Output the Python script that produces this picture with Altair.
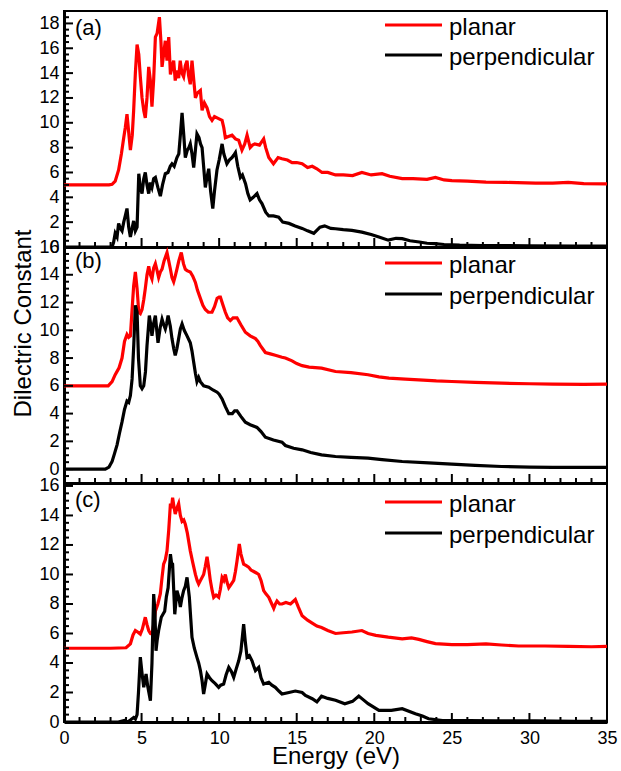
import altair as alt
import pandas as pd

# Energy axis (eV) and panel layout
E_MAX = 35
PANEL_W = 543
FONT = "Liberation Sans"
SERIES = ["planar", "perpendicular"]
COLORS = ["#ff0000", "#000000"]

# ---- (a) -------------------------------------------------------------------
A_PLANAR = [
    (0, 5.0), (2.9, 5.0), (3.1, 5.05), (3.3, 5.3), (3.52, 6.2), (3.7, 7.5), (3.85, 8.8),
    (3.95, 9.6), (4.06, 10.7), (4.15, 9.5), (4.28, 7.8), (4.4, 9.0), (4.49, 11.0),
    (4.6, 14.0), (4.71, 16.3), (4.82, 15.5), (4.92, 13.7), (5.03, 12.0), (5.14, 11.0),
    (5.24, 10.4), (5.35, 12.0), (5.46, 14.5), (5.56, 13.5), (5.67, 11.3), (5.78, 13.5),
    (5.89, 16.9), (6.0, 17.2), (6.15, 18.5), (6.25, 16.5), (6.32, 14.5), (6.42, 15.5),
    (6.53, 16.6), (6.64, 15.0), (6.75, 16.9), (6.86, 13.9), (6.96, 14.5), (7.07, 15.0),
    (7.17, 13.4), (7.28, 14.2), (7.39, 13.6), (7.49, 15.0), (7.6, 14.0), (7.71, 13.7),
    (7.82, 14.6), (7.93, 15.0), (8.03, 13.8), (8.14, 13.1), (8.25, 15.0), (8.36, 13.5),
    (8.47, 12.0), (8.6, 12.4), (8.79, 12.6), (8.9, 11.0), (9.05, 11.6), (9.22, 11.2),
    (9.38, 10.5), (9.54, 10.2), (9.7, 10.5), (9.87, 10.4), (10.03, 10.3), (10.19, 10.2),
    (10.3, 9.6), (10.4, 8.8), (10.6, 8.9), (10.83, 9.0), (11.05, 8.7), (11.26, 8.6),
    (11.47, 7.8), (11.65, 8.3), (11.8, 9.0), (12.0, 8.0), (12.15, 8.2), (12.3, 8.3),
    (12.6, 8.2), (12.87, 8.7), (13.0, 8.0), (13.2, 7.2), (13.5, 6.7), (13.8, 7.2),
    (14.05, 7.1), (14.4, 7.0), (14.7, 6.8), (15.0, 6.8), (15.35, 6.7), (15.7, 6.4),
    (16.0, 6.5), (16.3, 6.3), (16.63, 6.0), (17.0, 6.0), (17.5, 5.8), (18.0, 5.8),
    (18.6, 5.75), (19.2, 6.0), (19.8, 5.8), (20.5, 5.9), (21.0, 5.7), (21.8, 5.5),
    (22.5, 5.5), (23.4, 5.45), (23.94, 5.6), (24.5, 5.4), (25.0, 5.35), (26.0, 5.3),
    (27.2, 5.22), (28.5, 5.2), (30.4, 5.14), (31.5, 5.15), (32.5, 5.2), (33.5, 5.1),
    (35.0, 5.09),
]
A_PERP = [
    (0, 0.0), (3.1, 0.0), (3.2, 0.4), (3.3, 1.1), (3.42, 0.8), (3.52, 1.9), (3.63, 1.5),
    (3.74, 1.3), (3.85, 2.0), (3.95, 2.5), (4.06, 3.1), (4.17, 1.6), (4.28, 0.8),
    (4.39, 1.5), (4.49, 2.1), (4.6, 1.3), (4.71, 1.6), (4.82, 5.9), (4.92, 4.8),
    (5.03, 4.3), (5.14, 5.5), (5.24, 6.0), (5.35, 5.0), (5.46, 4.3), (5.56, 5.2),
    (5.67, 4.8), (5.78, 5.5), (5.89, 5.6), (6.05, 4.8), (6.21, 4.1), (6.35, 5.0),
    (6.53, 5.9), (6.7, 6.0), (6.85, 6.5), (6.96, 6.7), (7.1, 6.5), (7.28, 7.2),
    (7.4, 7.5), (7.5, 9.0), (7.61, 10.8), (7.72, 9.0), (7.82, 7.2), (7.95, 7.8),
    (8.05, 8.0), (8.14, 8.3), (8.25, 7.5), (8.36, 6.4), (8.47, 7.8), (8.57, 9.1),
    (8.7, 8.8), (8.8, 8.3), (8.9, 8.0), (9.0, 6.5), (9.11, 4.8), (9.2, 5.5), (9.33, 6.3),
    (9.45, 4.5), (9.59, 3.1), (9.7, 4.5), (9.86, 6.2), (10.0, 7.0), (10.19, 8.3),
    (10.3, 7.5), (10.5, 6.7), (10.65, 7.0), (10.83, 7.2), (10.95, 7.4), (11.05, 7.6),
    (11.2, 6.5), (11.37, 5.6), (11.5, 5.8), (11.7, 5.1), (11.85, 4.3), (12.0, 3.8),
    (12.2, 4.0), (12.44, 4.3), (12.6, 3.8), (12.76, 3.5), (13.0, 2.8), (13.2, 2.5),
    (13.5, 2.5), (13.84, 2.4), (14.1, 2.0), (14.5, 1.9), (14.9, 1.7), (15.35, 1.5),
    (15.7, 1.3), (16.1, 1.1), (16.5, 1.6), (16.8, 1.7), (17.2, 1.5), (17.5, 1.47),
    (18.0, 1.4), (18.56, 1.34), (19.2, 1.2), (19.8, 1.0), (20.3, 0.8), (20.9, 0.55),
    (21.4, 0.7), (21.8, 0.67), (22.3, 0.5), (22.9, 0.4), (23.4, 0.3), (23.9, 0.27),
    (24.5, 0.2), (25.5, 0.15), (27.0, 0.12), (30.0, 0.1), (33.0, 0.08), (35.0, 0.08),
]

# ---- (b) -------------------------------------------------------------------
B_PLANAR = [
    (0, 6.0), (2.85, 6.0), (3.1, 6.3), (3.3, 6.8), (3.55, 7.3), (3.74, 8.0), (3.9, 9.2),
    (4.06, 9.7), (4.17, 9.5), (4.28, 9.6), (4.39, 11.5), (4.49, 13.2), (4.6, 14.2),
    (4.71, 13.0), (4.82, 11.3), (4.92, 11.2), (5.03, 11.5), (5.14, 12.2), (5.24, 13.0),
    (5.35, 14.0), (5.46, 14.6), (5.57, 14.0), (5.67, 13.7), (5.78, 14.5), (5.89, 14.8),
    (6.0, 14.3), (6.1, 13.8), (6.21, 14.2), (6.32, 14.4), (6.45, 15.0), (6.64, 15.6),
    (6.75, 15.0), (6.86, 14.4), (6.96, 13.8), (7.07, 13.5), (7.17, 13.9), (7.28, 14.4),
    (7.4, 15.0), (7.56, 15.6), (7.7, 14.8), (7.82, 14.4), (7.93, 14.3), (8.14, 14.2),
    (8.3, 13.9), (8.47, 13.45), (8.6, 12.9), (8.79, 12.3), (8.95, 11.8), (9.11, 11.5),
    (9.3, 11.3), (9.54, 11.3), (9.7, 11.7), (9.87, 12.3), (10.0, 12.4), (10.08, 12.4),
    (10.25, 11.8), (10.4, 11.3), (10.55, 10.9), (10.72, 10.7), (10.9, 10.9), (11.15, 10.9),
    (11.4, 10.4), (11.69, 9.86), (12.0, 9.6), (12.34, 9.4), (12.5, 9.2), (12.66, 8.9),
    (12.98, 8.4), (13.3, 8.3), (13.62, 8.2), (14.05, 8.06), (14.27, 8.0), (14.7, 7.8),
    (15.0, 7.6), (15.35, 7.45), (15.8, 7.35), (16.6, 7.27), (17.5, 7.03), (18.5, 6.95),
    (19.6, 6.8), (20.3, 6.65), (20.94, 6.55), (22.0, 6.48), (22.87, 6.43), (24.0, 6.35),
    (25.0, 6.31), (26.5, 6.25), (28.2, 6.19), (30.0, 6.15), (31.5, 6.12), (33.5, 6.1),
    (35.0, 6.12),
]
B_PERP = [
    (0, 0.0), (2.66, 0.0), (2.9, 0.15), (3.1, 0.55), (3.25, 1.1), (3.42, 1.75), (3.58, 2.6),
    (3.74, 3.4), (3.9, 4.3), (4.06, 4.9), (4.17, 4.8), (4.28, 5.3), (4.39, 6.5), (4.5, 9.0),
    (4.6, 11.8), (4.71, 11.3), (4.8, 8.0), (4.92, 6.0), (5.03, 5.8), (5.14, 6.0),
    (5.25, 7.0), (5.35, 8.9), (5.5, 11.06), (5.58, 10.5), (5.67, 9.6), (5.78, 10.5),
    (5.89, 11.06), (5.98, 10.0), (6.06, 9.1), (6.2, 10.2), (6.32, 10.8), (6.43, 10.4),
    (6.53, 10.1), (6.62, 10.5), (6.71, 11.06), (6.85, 10.3), (6.96, 9.4), (7.07, 8.7),
    (7.17, 8.2), (7.28, 8.7), (7.39, 9.4), (7.5, 10.1), (7.61, 10.46), (7.75, 10.0),
    (7.93, 9.6), (8.14, 9.1), (8.25, 8.5), (8.36, 7.7), (8.47, 6.9), (8.57, 6.3),
    (8.68, 6.6), (8.79, 6.3), (9.0, 6.0), (9.33, 5.9), (9.6, 5.7), (9.87, 5.54),
    (10.0, 5.4), (10.19, 5.06), (10.4, 4.5), (10.62, 4.0), (10.85, 4.0), (11.0, 4.2),
    (11.15, 4.2), (11.4, 3.8), (11.69, 3.38), (12.0, 3.2), (12.44, 3.0), (12.7, 2.7),
    (12.98, 2.3), (13.5, 2.1), (14.05, 1.94), (14.27, 1.7), (14.8, 1.5), (15.35, 1.39),
    (15.9, 1.2), (16.6, 1.03), (17.5, 0.91), (18.5, 0.85), (19.6, 0.79), (20.5, 0.68),
    (21.8, 0.55), (23.5, 0.45), (25.0, 0.36), (26.5, 0.27), (28.2, 0.19), (30.0, 0.15),
    (31.5, 0.12), (33.0, 0.12), (35.0, 0.12),
]

# ---- (c) -------------------------------------------------------------------
C_PLANAR = [
    (0, 5.0), (3.0, 5.0), (4.0, 5.03), (4.28, 5.3), (4.45, 5.9), (4.6, 6.2), (4.75, 6.1),
    (4.92, 5.96), (5.05, 6.3), (5.24, 7.1), (5.35, 6.6), (5.46, 6.2), (5.57, 6.0),
    (5.67, 5.96), (5.78, 6.6), (5.89, 7.5), (6.05, 8.0), (6.21, 8.7), (6.32, 9.8),
    (6.42, 10.7), (6.53, 11.0), (6.64, 11.6), (6.75, 13.0), (6.86, 14.8), (6.93, 14.5),
    (7.0, 15.2), (7.1, 14.5), (7.17, 14.1), (7.28, 14.5), (7.39, 14.8), (7.5, 14.0),
    (7.61, 13.6), (7.72, 13.7), (7.82, 13.4), (7.95, 12.8), (8.14, 11.6), (8.3, 10.8),
    (8.47, 10.0), (8.58, 9.6), (8.68, 9.35), (8.8, 9.6), (9.0, 10.0), (9.1, 10.5),
    (9.22, 11.2), (9.32, 10.5), (9.43, 9.6), (9.55, 8.9), (9.65, 8.45), (9.8, 8.6),
    (9.97, 8.45), (10.08, 9.0), (10.19, 9.8), (10.3, 9.6), (10.4, 10.0), (10.5, 9.5),
    (10.62, 9.1), (10.75, 9.3), (10.94, 9.6), (11.05, 10.2), (11.15, 10.9), (11.3, 12.06),
    (11.4, 11.4), (11.58, 10.7), (11.75, 10.6), (11.9, 10.5), (12.05, 10.3), (12.23, 10.2),
    (12.4, 10.1), (12.55, 10.0), (12.7, 9.6), (12.87, 8.9), (13.0, 8.7), (13.2, 8.45),
    (13.35, 8.1), (13.52, 7.7), (13.63, 8.0), (13.73, 8.2), (13.9, 8.0), (14.05, 8.0),
    (14.3, 8.1), (14.6, 8.0), (14.91, 8.3), (15.1, 7.8), (15.35, 7.2), (15.7, 6.9),
    (16.0, 6.7), (16.3, 6.5), (16.6, 6.4), (17.0, 6.2), (17.5, 6.0), (18.0, 6.05),
    (18.56, 6.1), (19.2, 6.2), (19.6, 6.0), (20.1, 5.87), (20.9, 5.75), (21.8, 5.64),
    (22.4, 5.7), (22.87, 5.6), (23.4, 5.45), (23.94, 5.31), (25.0, 5.24), (26.0, 5.25),
    (27.2, 5.3), (28.2, 5.22), (29.3, 5.15), (31.0, 5.15), (32.5, 5.13), (34.0, 5.1),
    (35.0, 5.13),
]
C_PERP = [
    (0, 0.0), (3.5, 0.0), (3.9, 0.1), (4.1, 0.0), (4.3, 0.15), (4.49, 0.3), (4.6, 0.2),
    (4.71, 0.5), (4.8, 2.0), (4.92, 4.4), (5.03, 3.3), (5.14, 2.35), (5.29, 3.25),
    (5.4, 2.4), (5.57, 1.44), (5.67, 4.0), (5.78, 8.67), (5.86, 7.5), (5.93, 4.83),
    (6.0, 5.5), (6.1, 6.2), (6.27, 7.1), (6.38, 7.3), (6.49, 7.5), (6.6, 8.5), (6.71, 9.1),
    (6.86, 11.38), (6.93, 10.8), (7.0, 10.7), (7.07, 9.0), (7.14, 7.3), (7.2, 8.0),
    (7.28, 8.9), (7.39, 8.5), (7.5, 7.8), (7.6, 8.4), (7.71, 8.9), (7.82, 9.2), (7.93, 9.8),
    (8.08, 8.45), (8.17, 7.0), (8.25, 5.74), (8.4, 5.0), (8.57, 4.38), (8.68, 4.0),
    (8.79, 3.5), (8.9, 2.8), (9.0, 1.9), (9.1, 2.5), (9.22, 3.25), (9.38, 3.0), (9.54, 2.8),
    (9.75, 2.6), (9.97, 2.35), (10.1, 2.5), (10.29, 2.57), (10.45, 3.2), (10.62, 3.7),
    (10.8, 3.4), (10.94, 3.03), (11.1, 3.6), (11.26, 4.15), (11.4, 4.8), (11.5, 5.8),
    (11.58, 6.64), (11.68, 5.5), (11.8, 4.38), (11.95, 4.5), (12.12, 4.15), (12.23, 3.8),
    (12.34, 3.48), (12.55, 3.7), (12.7, 3.0), (12.87, 2.57), (13.2, 2.69), (13.4, 2.5),
    (13.62, 2.35), (13.85, 2.1), (14.05, 1.9), (14.5, 2.0), (14.91, 2.1), (15.35, 2.0),
    (15.56, 1.8), (16.0, 1.58), (16.3, 1.36), (16.6, 1.75), (17.0, 1.6), (17.5, 1.47),
    (18.1, 1.24), (18.6, 1.4), (19.0, 1.76), (19.3, 1.5), (19.6, 1.24), (20.3, 0.79),
    (21.1, 0.79), (21.8, 0.9), (22.65, 0.56), (23.1, 0.4), (23.5, 0.22), (24.4, 0.1),
    (26.1, 0.1), (28.0, 0.08), (30.4, 0.08), (33.0, 0.05), (35.0, 0.05),
]

# Tick positions
X_MAJOR = [0, 5, 10, 15, 20, 25, 30, 35]
X_MINOR = [v for v in range(0, 36) if v % 5 != 0]


def half_steps(lo, hi):
    n0, n1 = int(round(lo * 2)), int(round(hi * 2))
    return [k / 2 for k in range(n0, n1 + 1)]


color_enc = alt.Color(
    "pol:N",
    scale=alt.Scale(domain=SERIES, range=COLORS),
    legend=None,
)


def panel(tag, planar, perp, ydom, ylabels, height, tag_y, leg_y, bottom, ytitle=False):
    df = pd.DataFrame(
        [{"E": e, "eps": v, "pol": "planar"} for e, v in planar]
        + [{"E": e, "eps": v, "pol": "perpendicular"} for e, v in perp]
    )
    xs = alt.Scale(domain=[0, E_MAX], nice=False, zero=False)
    ys = alt.Scale(domain=ydom, nice=False, zero=False)

    if bottom:
        x_axis = alt.Axis(
            values=X_MAJOR, ticks=False, grid=False, labelFontSize=18, labelPadding=7,
            labelFlush=False, labelOverlap=False, domainWidth=3, domainColor="black",
            title="Energy (eV)", titleFontSize=24, titleFontWeight="normal",
            titlePadding=-3, labelColor="black", titleColor="black",
        )
    else:
        x_axis = alt.Axis(labels=False, ticks=False, title=None, domainWidth=3,
                          domainColor="black", grid=False)

    y_kwargs = dict(
        values=ylabels, ticks=False, labelFontSize=18, labelPadding=5,
        labelOverlap=False, labelFlush=False, domainWidth=3, domainColor="black",
        labelColor="black", grid=False,
    )
    if ytitle:
        y_axis = alt.Axis(
            title="Dilectric Constant", titleFontSize=24, titleFontWeight="normal",
            titleColor="black", titleX=-41, titleY=76, titleAngle=270,
            titleAlign="center", titleBaseline="middle", **y_kwargs,
        )
    else:
        y_axis = alt.Axis(title=None, **y_kwargs)

    # every layer carries the same axis definition so the merged axis keeps it
    lines = alt.Chart(df).mark_line(strokeWidth=3.2, clip=True).encode(
        x=alt.X("E:Q", scale=xs, axis=x_axis),
        y=alt.Y("eps:Q", scale=ys, axis=y_axis),
        color=color_enc,
    )

    # inward tick marks on the left and bottom frames
    y_major = [v for v in half_steps(ydom[0], ydom[1]) if v % 2 == 0]
    y_minor = [v for v in half_steps(ydom[0], ydom[1]) if v % 2 != 0]
    yt_major = alt.Chart(pd.DataFrame({"v": y_major})).mark_rule(
        color="black", strokeWidth=2).encode(
        y=alt.Y("v:Q", scale=ys, axis=y_axis), x=alt.value(0), x2=alt.value(9))
    yt_minor = alt.Chart(pd.DataFrame({"v": y_minor})).mark_rule(
        color="black", strokeWidth=2).encode(
        y=alt.Y("v:Q", scale=ys, axis=y_axis), x=alt.value(0), x2=alt.value(5))
    xt_major = alt.Chart(pd.DataFrame({"v": X_MAJOR})).mark_rule(
        color="black", strokeWidth=2).encode(
        x=alt.X("v:Q", scale=xs, axis=x_axis), y=alt.value(height), y2=alt.value(height - 9))
    xt_minor = alt.Chart(pd.DataFrame({"v": X_MINOR})).mark_rule(
        color="black", strokeWidth=2).encode(
        x=alt.X("v:Q", scale=xs, axis=x_axis), y=alt.value(height), y2=alt.value(height - 5))

    label = alt.Chart(pd.DataFrame({"t": [tag]})).mark_text(
        align="left", baseline="alphabetic", fontSize=22, font=FONT, color="black"
    ).encode(x=alt.value(11), y=alt.value(tag_y), text="t:N")

    legend_layers = []
    for name, yy in zip(SERIES, leg_y):
        src = pd.DataFrame({"pol": [name]})
        legend_layers.append(
            alt.Chart(src).mark_rule(strokeWidth=3).encode(
                x=alt.value(321), x2=alt.value(378), y=alt.value(yy), color=color_enc)
        )
        legend_layers.append(
            alt.Chart(src).mark_text(
                align="left", baseline="alphabetic", fontSize=24, font=FONT, color="black"
            ).encode(x=alt.value(385), y=alt.value(yy + 10), text="pol:N")
        )

    return alt.layer(
        lines, yt_major, yt_minor, xt_major, xt_minor, label, *legend_layers
    ).properties(width=PANEL_W, height=height)


pa = panel("(a)", A_PLANAR, A_PERP, [0, 19], list(range(0, 19, 2)), 236, 24,
           (14, 44), bottom=False)
pb = panel("(b)", B_PLANAR, B_PERP, [-1, 16], list(range(0, 17, 2)), 236, 21,
           (16, 47), bottom=False, ytitle=True)
pc = panel("(c)", C_PLANAR, C_PERP, [0, 16.2], list(range(0, 17, 2)), 239, 24,
           (19, 50), bottom=True)

chart = alt.vconcat(pa, pb, pc, spacing=0, bounds="flush").properties(
    padding={"left": 9, "top": 9, "right": 0, "bottom": 0}
).configure(font=FONT).configure_view(
    stroke="black", strokeWidth=2
).configure_axis(
    labelFont=FONT, titleFont=FONT, grid=False
)

chart.save("out.html", embed_options={"renderer": "svg", "actions": False})
